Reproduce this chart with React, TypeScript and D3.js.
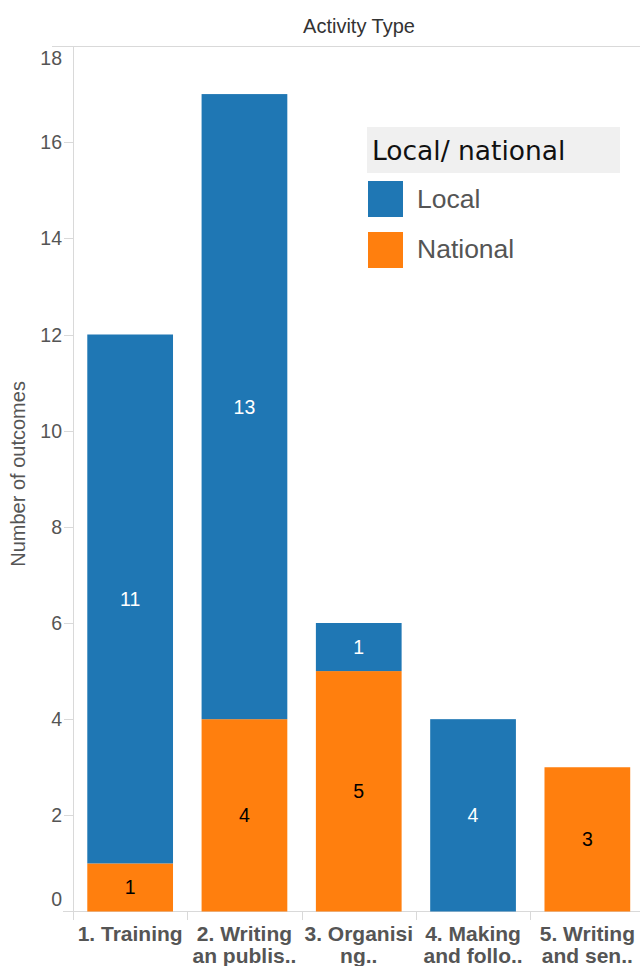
import React from "react";
import * as d3 from "d3";

const categories = ["1. Training", "2. Writing an publis..", "3. Organising..", "4. Making and follo..", "5. Writing and sen.."];
const labelLines = [["1. Training"], ["2. Writing", "an publis.."], ["3. Organisi", "ng.."], ["4. Making", "and follo.."], ["5. Writing", "and sen.."]];
const localValues = [11, 13, 1, 4, 0];
const nationalValues = [1, 4, 5, 0, 3];
const yTicks = [0, 2, 4, 6, 8, 10, 12, 14, 16, 18];
const seriesNames = ["Local", "National"];

const W = 640, H = 966;
const BLUE = "#1f77b4", ORANGE = "#ff7f0e";

export default function App() {
  const x = d3.scaleBand<string>().domain(categories).range([73, 644.5]).paddingInner(0.25).paddingOuter(0.125);
  const y = d3.scaleLinear().domain([0, 18]).range([911.5, 46]);
  const rows = categories.map((c, i) => ({ cat: c, National: nationalValues[i], Local: localValues[i] }));
  const stack = d3.stack<any>().keys(["National", "Local"])(rows);
  const step = x.step();
  const font = "Liberation Sans, Arial, sans-serif";

  return (
    <svg width={W} height={H} style={{ position: "absolute", left: 0, top: 0, background: "#fff" }} fontFamily={font}>
      <text x={359} y={33} textAnchor="middle" fontSize={20} fill="#333">Activity Type</text>
      <line x1={52} x2={W} y1={46.5} y2={46.5} stroke="#d9d9d9" />
      <line x1={73.5} x2={73.5} y1={46} y2={920} stroke="#d9d9d9" />
      <line x1={63} x2={W} y1={911.5} y2={911.5} stroke="#d9d9d9" />
      {yTicks.map((t) => {
        let ly = y(t) + 7;
        if (t === 18) ly = y(t) + 19;
        if (t === 0) ly = y(t) - 6;
        return (
          <g key={t}>
            {t !== 18 && t !== 0 && <line x1={64} x2={73} y1={Math.round(y(t)) + 0.5} y2={Math.round(y(t)) + 0.5} stroke="#d9d9d9" />}
            <text x={62} y={ly} textAnchor="end" fontSize={19.5} fill="#555">{t}</text>
          </g>
        );
      })}
      <text transform={`translate(25,${y(9.1)}) rotate(-90)`} textAnchor="middle" fontSize={20} fill="#555">Number of outcomes</text>
      {categories.map((c, i) => {
        const x0 = (x(c) as number) - step * 0.125;
        return <line key={c} x1={Math.round(x0) + 0.5} x2={Math.round(x0) + 0.5} y1={911} y2={920} stroke="#d9d9d9" />;
      })}
      {stack.map((s) => (
        <g key={s.key}>
          {s.map((d, i) => {
            const v = d[1] - d[0];
            if (v <= 0) return null;
            const cx = (x(categories[i]) as number) + x.bandwidth() / 2;
            const isLocal = s.key === "Local";
            return (
              <g key={i}>
                <rect x={x(categories[i])} width={x.bandwidth()} y={y(d[1])} height={y(d[0]) - y(d[1])} fill={isLocal ? BLUE : ORANGE} />
                <text x={cx} y={(y(d[0]) + y(d[1])) / 2 + 7} textAnchor="middle" fontSize={19.5} fill={isLocal ? "#fff" : "#000"}>{v}</text>
              </g>
            );
          })}
        </g>
      ))}
      {categories.map((c, i) => {
        const cx = (x(c) as number) + x.bandwidth() / 2;
        return (
          <text key={c} textAnchor="middle" fontSize={21} fontWeight="bold" fill="#555">
            {labelLines[i].map((l, j) => (
              <tspan key={j} x={cx} y={941 + j * 22}>{l}</tspan>
            ))}
          </text>
        );
      })}
      <g>
        <rect x={367} y={127} width={253} height={46} fill="#f0f0f0" />
        <text x={372} y={160} fontSize={26.5} fill="#111" fontFamily="DejaVu Sans, sans-serif">Local/ national</text>
        {seriesNames.map((n, i) => (
          <g key={n}>
            <rect x={368} y={181 + i * 51} width={35} height={36} fill={i === 0 ? BLUE : ORANGE} />
            <text x={417} y={208 + i * 50} fontSize={26.5} fill="#555">{n}</text>
          </g>
        ))}
      </g>
    </svg>
  );
}
